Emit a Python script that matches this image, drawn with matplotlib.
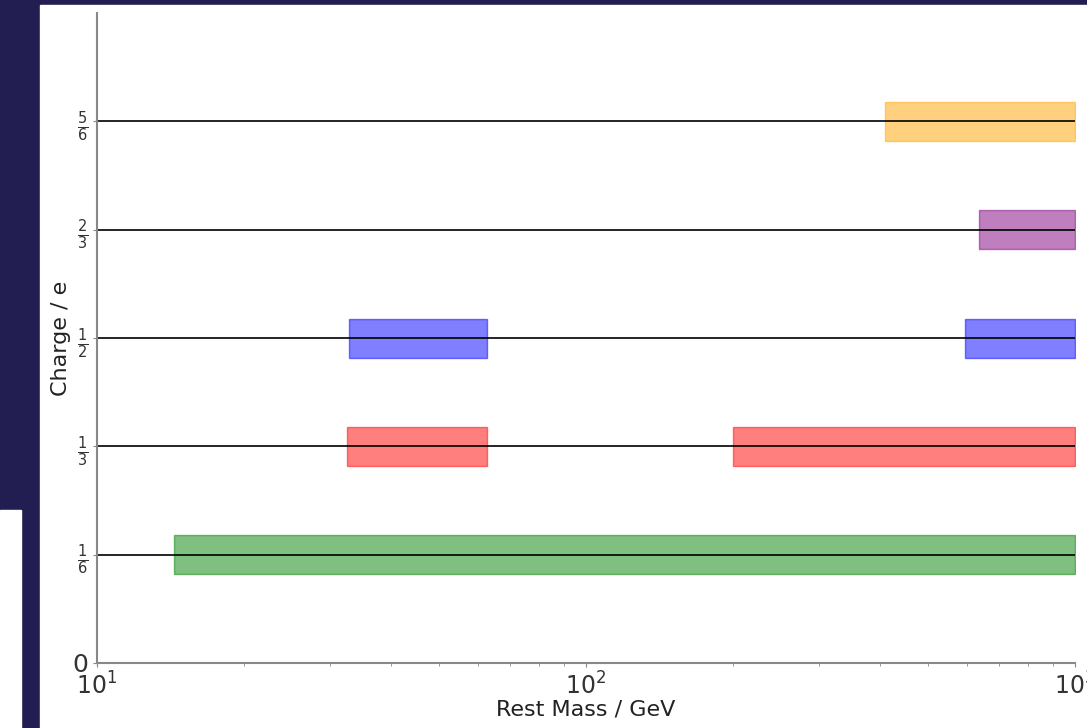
import matplotlib.pyplot as plt
from matplotlib.patches import Rectangle

# charges and the mass ranges (GeV) shaded on each line
charges = [1/6, 1/3, 1/2, 2/3, 5/6]
charge_labels = ['0', r'$\frac{1}{6}$', r'$\frac{1}{3}$', r'$\frac{1}{2}$', r'$\frac{2}{3}$', r'$\frac{5}{6}$']
tick_vals = [0, 1/6, 1/3, 1/2, 2/3, 5/6]

band_charge = [1/6, 1/3, 1/3, 1/2, 1/2, 2/3, 5/6]
band_lo = [14.4, 32.4, 200, 32.7, 596, 636, 408]
band_hi = [1000, 62.8, 1000, 62.8, 1000, 1000, 1000]
band_color = ['green', 'red', 'red', 'blue', 'blue', 'purple', 'orange']
half_height = 0.03

fig = plt.figure(figsize=(10.87, 7.28), dpi=100)
fig.patch.set_facecolor('#221e52')
# white screenshot area on the dark slide
fig.patches.append(Rectangle((40/1087, 0), 1 - 40/1087, 1 - 5/728,
                             transform=fig.transFigure, color='white', zorder=-1))
fig.patches.append(Rectangle((0, 0), 21/1087, 1 - 510/728,
                             transform=fig.transFigure, color='white', zorder=-1))

ax = fig.add_axes([97/1087, 65/728, 978/1087, 650/728])
ax.set_facecolor('white')

for c, lo, hi, col in zip(band_charge, band_lo, band_hi, band_color):
    ax.fill_between([lo, hi], c - half_height, c + half_height, color=col, alpha=0.5, linewidth=1)

for c in charges:
    ax.axhline(c, color='black', linewidth=1.2)

ax.set_xscale('log')
ax.set_xlim(10, 1000)
ax.set_ylim(0, 1)
ax.set_yticks(tick_vals)
ax.set_yticklabels(charge_labels)
ax.tick_params(axis='y', labelsize=15, labelcolor='#333333')
ax.tick_params(axis='x', labelsize=17, labelcolor='#333333')
ax.tick_params(axis='both', color='#888888', length=3)
ax.tick_params(axis='x', which='minor', color='#888888', length=2)
ax.get_yticklabels()[0].set_fontsize(18)

for s in ['top', 'right']:
    ax.spines[s].set_visible(False)
for s in ['left', 'bottom']:
    ax.spines[s].set_color('#888888')
    ax.spines[s].set_linewidth(1.5)

ax.set_xlabel('Rest Mass / GeV', fontsize=16, color='#222222', labelpad=0)
ax.set_ylabel('Charge / e', fontsize=16, color='#222222', labelpad=1)

plt.savefig('out.png', dpi=100, facecolor=fig.get_facecolor())
